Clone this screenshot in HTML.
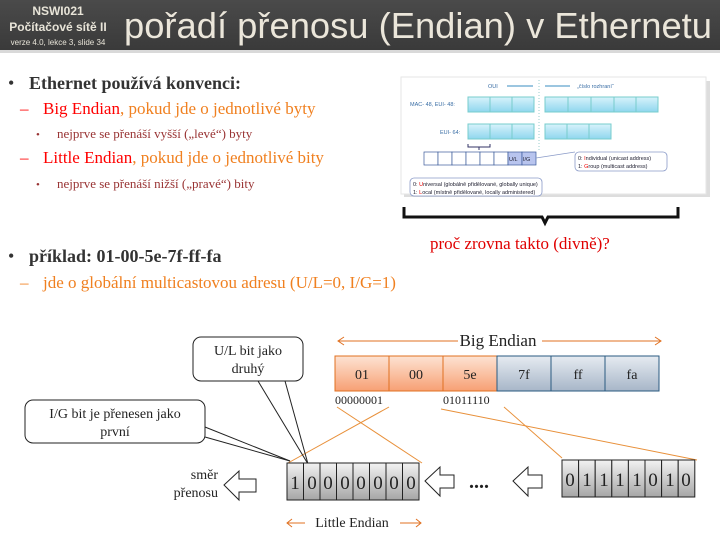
<!DOCTYPE html>
<html><head><meta charset="utf-8"><style>
html,body{margin:0;padding:0;background:#fff;}
svg{display:block}
</style></head><body>
<svg width="720" height="540" viewBox="0 0 720 540" xmlns="http://www.w3.org/2000/svg">
<defs>
<linearGradient id="hdr" x1="0" y1="0" x2="0" y2="1"><stop offset="0" stop-color="#4a4a4a"/><stop offset="1" stop-color="#3a3a3a"/></linearGradient>
<linearGradient id="org" x1="0" y1="0" x2="0" y2="1"><stop offset="0" stop-color="#fde3d3"/><stop offset="1" stop-color="#f7a074"/></linearGradient>
<linearGradient id="blu" x1="0" y1="0" x2="0" y2="1"><stop offset="0" stop-color="#e6ebf1"/><stop offset="1" stop-color="#a7b6c8"/></linearGradient>
<linearGradient id="gry" x1="0" y1="0" x2="0" y2="1"><stop offset="0" stop-color="#f2f2f2"/><stop offset="1" stop-color="#a6a6a6"/></linearGradient>
<linearGradient id="cy" x1="0" y1="0" x2="0" y2="1"><stop offset="0" stop-color="#d8f3fb"/><stop offset="1" stop-color="#8fd6ee"/></linearGradient>
</defs>
<rect x="0" y="0" width="720" height="50" fill="url(#hdr)"/>
<rect x="0" y="50" width="720" height="3" fill="#d9d9d9"/>
<g font-family="Liberation Sans, sans-serif" fill="#e8e4d8" text-anchor="middle" font-weight="bold">
<text x="58" y="15" font-size="12">NSWI021</text>
<text x="58" y="31" font-size="12">Počítačové sítě II</text>
<text x="58" y="45" font-size="8" font-weight="normal">verze 4.0, lekce 3, slide 34</text>
</g>
<text x="124" y="38" font-family="Liberation Sans, sans-serif" font-size="36" fill="#ebe6da" textLength="588" lengthAdjust="spacingAndGlyphs">pořadí přenosu (Endian) v Ethernetu</text>

<g font-family="Liberation Serif, serif">
<text x="8" y="89" font-size="18" fill="#333">•</text>
<text x="29" y="89" font-size="18" font-weight="bold" fill="#333">Ethernet používá konvenci:</text>
<text x="20" y="114" font-size="17" fill="#f00">–</text>
<text x="43" y="114" font-size="17"><tspan fill="#f00">Big Endian</tspan><tspan fill="#f08020">, pokud jde o jednotlivé byty</tspan></text>
<text x="36" y="138" font-size="11" fill="#993333">•</text>
<text x="57" y="138" font-size="13" fill="#993333">nejprve se přenáší vyšší („levé“) byty</text>
<text x="20" y="163" font-size="17" fill="#f00">–</text>
<text x="43" y="163" font-size="17"><tspan fill="#f00">Little Endian</tspan><tspan fill="#f08020">, pokud jde o jednotlivé bity</tspan></text>
<text x="36" y="188" font-size="11" fill="#993333">•</text>
<text x="57" y="188" font-size="13" fill="#993333">nejprve se přenáší nižší („pravé“) bity</text>
<text x="8" y="262" font-size="18" fill="#333">•</text>
<text x="29" y="262" font-size="18" font-weight="bold" fill="#333">příklad: 01-00-5e-7f-ff-fa</text>
<text x="20" y="288" font-size="17" fill="#f08020">–</text>
<text x="43" y="288" font-size="17" fill="#f08020">jde o globální multicastovou adresu (U/L=0, I/G=1)</text>
</g>

<rect x="404" y="81" width="306" height="116" fill="#ddd"/>
<rect x="401" y="77" width="305" height="117" fill="#fff" stroke="#e6e6e6"/>
<g font-family="Liberation Sans, sans-serif" font-size="5.5" fill="#3a6ea5">
<text x="488" y="88">OUI</text>
<text x="577" y="88">„číslo rozhraní“</text>
<text x="410" y="106">MAC- 48, EUI- 48:</text>
<text x="440" y="134">EUI- 64:</text>
</g>
<line x1="507" y1="86" x2="533" y2="86" stroke="#3a8cc0"/>
<line x1="545" y1="86" x2="570" y2="86" stroke="#3a8cc0"/>
<line x1="539" y1="80" x2="539" y2="150" stroke="#9cc" stroke-dasharray="1,2"/>
<g stroke="#7cc" fill="url(#cy)">
<rect x="468" y="97" width="22" height="15"/><rect x="490" y="97" width="22" height="15"/><rect x="512" y="97" width="22" height="15"/>
<rect x="545" y="97" width="23" height="15"/><rect x="568" y="97" width="23" height="15"/><rect x="591" y="97" width="23" height="15"/><rect x="614" y="97" width="22" height="15"/><rect x="636" y="97" width="22" height="15"/>
<rect x="468" y="124" width="22" height="15"/><rect x="490" y="124" width="22" height="15"/><rect x="512" y="124" width="22" height="15"/>
<rect x="545" y="124" width="22" height="15"/><rect x="567" y="124" width="22" height="15"/><rect x="589" y="124" width="22" height="15"/>
</g>
<path d="M468 144 v3 h22 v-3 M479 147 v3" stroke="#336" fill="none"/>
<g stroke="#3a5a9a" fill="#fff" stroke-width="0.7">
<rect x="424" y="152" width="14" height="13"/><rect x="438" y="152" width="14" height="13"/><rect x="452" y="152" width="14" height="13"/><rect x="466" y="152" width="14" height="13"/><rect x="480" y="152" width="14" height="13"/><rect x="494" y="152" width="14" height="13"/>
<rect x="508" y="152" width="14" height="13" fill="#b8c4ee"/><rect x="522" y="152" width="14" height="13" fill="#b8c4ee"/>
</g>
<g font-family="Liberation Sans, sans-serif" font-size="5.5" fill="#223">
<text x="509" y="161">U/L</text><text x="523" y="161">I/G</text></g>
<line x1="536" y1="158" x2="575" y2="152" stroke="#8a9ac8" stroke-width="0.7"/>
<rect x="575" y="152" width="92" height="19" rx="4" fill="#fff" stroke="#8a9ac8" stroke-width="0.8"/>
<rect x="410" y="178" width="132" height="18" rx="4" fill="#fff" stroke="#8a9ac8" stroke-width="0.8"/>
<g font-family="Liberation Sans, sans-serif" font-size="5.5" fill="#223">
<text x="578" y="160">0: <tspan fill="#e00">I</tspan>ndividual (unicast address)</text>
<text x="578" y="168">1: <tspan fill="#e00">G</tspan>roup (multicast address)</text>
<text x="413" y="186">0: <tspan fill="#e00">U</tspan>niversal (globálně přidělované, globally unique)</text>
<text x="413" y="194">1: <tspan fill="#e00">L</tspan>ocal (místně přidělované, locally administered)</text>
</g>
<path d="M404 207 v10 h138 l3 6 l3 -6 h130 v-10" stroke="#111" stroke-width="3" fill="none"/>
<text x="430" y="249" font-family="Liberation Serif, serif" font-size="17" fill="#e00000">proč zrovna takto (divně)?</text>

<g stroke="#e07020" stroke-width="1" fill="none">
<line x1="338" y1="341" x2="458" y2="341"/><line x1="542" y1="341" x2="661" y2="341"/>
<path d="M344 337 l-6 4 l6 4 M655 337 l6 4 l-6 4"/>
</g>
<text x="498" y="346" font-family="Liberation Serif, serif" font-size="17" text-anchor="middle" fill="#222">Big Endian</text>
<g stroke="#e07020" fill="url(#org)"><rect x="335" y="356" width="54" height="35"/><rect x="389" y="356" width="54" height="35"/><rect x="443" y="356" width="54" height="35"/></g>
<g stroke="#2a5a80" fill="url(#blu)"><rect x="497" y="356" width="54" height="35"/><rect x="551" y="356" width="54" height="35"/><rect x="605" y="356" width="54" height="35"/></g>
<g font-family="Liberation Serif, serif" font-size="14" text-anchor="middle" fill="#222">
<text x="362" y="379">01</text><text x="416" y="379">00</text><text x="470" y="379">5e</text><text x="524" y="379">7f</text><text x="578" y="379">ff</text><text x="632" y="379">fa</text>
</g>
<g font-family="Liberation Serif, serif" font-size="12" fill="#222">
<text x="335" y="404">00000001</text><text x="443" y="404">01011110</text></g>
<g stroke="#e8903a" stroke-width="1">
<line x1="389" y1="407" x2="288" y2="463"/><line x1="337" y1="407" x2="422" y2="463"/>
<line x1="504" y1="407" x2="562" y2="458"/><line x1="441" y1="409" x2="697" y2="460"/>
</g>
<rect x="193" y="337" width="110" height="44" rx="8" fill="#fff" stroke="#222"/>
<text x="248" y="355" font-family="Liberation Serif, serif" font-size="14" text-anchor="middle" fill="#222">U/L bit jako</text>
<text x="248" y="373" font-family="Liberation Serif, serif" font-size="14" text-anchor="middle" fill="#222">druhý</text>
<rect x="25" y="400" width="180" height="43" rx="8" fill="#fff" stroke="#222"/>
<text x="115" y="418" font-family="Liberation Serif, serif" font-size="14" text-anchor="middle" fill="#222">I/G bit je přenesen jako</text>
<text x="115" y="436" font-family="Liberation Serif, serif" font-size="14" text-anchor="middle" fill="#222">první</text>
<g stroke="#222" fill="none">
<line x1="285" y1="381" x2="308" y2="464"/><line x1="258" y1="381" x2="308" y2="464"/>
<line x1="205" y1="427" x2="290" y2="461"/><line x1="205" y1="437" x2="290" y2="461"/>
</g>
<g stroke="#222" fill="url(#gry)">
<rect x="287" y="463" width="16.5" height="37"/><rect x="303.5" y="463" width="16.5" height="37"/><rect x="320" y="463" width="16.5" height="37"/><rect x="336.5" y="463" width="16.5" height="37"/><rect x="353" y="463" width="16.5" height="37"/><rect x="369.5" y="463" width="16.5" height="37"/><rect x="386" y="463" width="16.5" height="37"/><rect x="402.5" y="463" width="16.5" height="37"/>
<rect x="562" y="460" width="16.6" height="37"/><rect x="578.6" y="460" width="16.6" height="37"/><rect x="595.2" y="460" width="16.6" height="37"/><rect x="611.8" y="460" width="16.6" height="37"/><rect x="628.4" y="460" width="16.6" height="37"/><rect x="645" y="460" width="16.6" height="37"/><rect x="661.6" y="460" width="16.6" height="37"/><rect x="678.2" y="460" width="16.6" height="37"/>
</g>
<g font-family="Liberation Serif, serif" font-size="19" text-anchor="middle" fill="#222">
<text x="295" y="489">1</text><text x="312" y="489">0</text><text x="328" y="489">0</text><text x="345" y="489">0</text><text x="361" y="489">0</text><text x="378" y="489">0</text><text x="394" y="489">0</text><text x="411" y="489">0</text>
<text x="570" y="486">0</text><text x="587" y="486">1</text><text x="604" y="486">1</text><text x="620" y="486">1</text><text x="637" y="486">1</text><text x="653" y="486">0</text><text x="670" y="486">1</text><text x="686" y="486">0</text>
</g>
<g stroke="#222" fill="#fff">
<path d="M224 485 l15 -14 v8 h17 v13 h-17 v8 z"/>
<path d="M440 481 l15 -14 v8 h14 v13 h-14 v8 z" transform="translate(-15,0)"/>
<path d="M513 481 l15 -14 v8 h14 v13 h-14 v8 z"/>
</g>
<text x="479" y="488" font-family="Liberation Serif, serif" font-size="20" font-weight="bold" text-anchor="middle" fill="#222">....</text>
<g font-family="Liberation Serif, serif" font-size="14" text-anchor="end" fill="#222">
<text x="218" y="479">směr</text><text x="218" y="497">přenosu</text></g>
<g stroke="#e07020" fill="none">
<line x1="287" y1="523" x2="305" y2="523"/><line x1="400" y1="523" x2="421" y2="523"/>
<path d="M292 519 l-5 4 l5 4 M416 519 l5 4 l-5 4"/></g>
<text x="352" y="527" font-family="Liberation Serif, serif" font-size="14" text-anchor="middle" fill="#222">Little Endian</text>
</svg>
</body></html>
